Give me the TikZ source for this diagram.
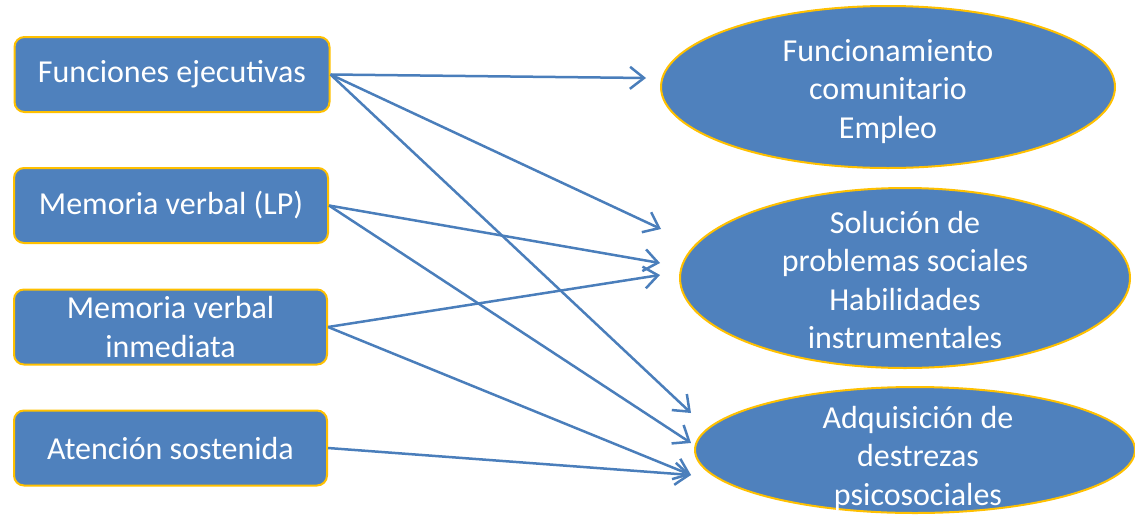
\documentclass[tikz,border=0pt]{standalone}
\usepackage{fontspec}
\setmainfont{Carlito}
\usetikzlibrary{shapes.geometric, arrows.meta}
\definecolor{boxblue}{HTML}{4F81BD}
\definecolor{edgegold}{HTML}{FFC000}
\definecolor{arrowblue}{HTML}{4A7EBB}

\begin{document}
\begin{tikzpicture}[x=1pt, y=-1pt, >={Straight Barb[length=14pt, width=22pt]},
    factor/.style={draw=edgegold, fill=boxblue, line width=2pt, rounded corners=10pt,
        minimum width=315pt, minimum height=75pt, inner sep=0pt, text=white,
        align=center, font=\fontsize{32}{38.5}\selectfont},
    outcome/.style={ellipse, draw=edgegold, fill=boxblue, line width=2pt, inner sep=0pt},
    txt/.style={text=white, align=center, font=\fontsize{32}{38.5}\selectfont},
    link/.style={->, draw=arrowblue, line width=2.5pt}]
    \useasboundingbox (0,0) rectangle (1135,515);

    % left column
    \node[factor] (fe) at (172,74.5) {Funciones ejecutivas};
    \node[factor, minimum width=314pt] (mlp) at (171,205.5) {Memoria verbal (LP)};
    \node[factor, minimum width=313pt] (mi) at (170.5,327) {Memoria verbal\\inmediata};
    \node[factor, minimum width=313pt] (as) at (170.5,448) {Atención sostenida};

    % right column
    \node[outcome, minimum width=454pt, minimum height=162pt,
        label={[txt, yshift=-4.5pt]center:{Funcionamiento\\comunitario\\Empleo}}] (fc) at (888,87) {};
    \node[outcome, minimum width=450pt, minimum height=180pt,
        label={[txt, yshift=-2pt]center:{Solución de\\problemas sociales\\Habilidades\\instrumentales}}] (sp) at (905,278) {};
    \node[outcome, minimum width=440pt, minimum height=126pt,
        label={[txt, yshift=-8pt, xshift=3pt]center:{Adquisición de\\destrezas\\psicosociales}}] (ad) at (915,450) {};

    \draw[link] (fe.east) -- ([shift={(-14,-9)}]fc.west);
    \draw[link] (fe.east) -- ([shift={(-18,-49)}]sp.west);
    \draw[link] (fe.east) -- ([shift={(-3,-37)}]ad.west);
    \draw[link] (mlp.east) -- ([shift={(-19,-15)}]sp.west);
    \draw[link] (mlp.east) -- ([shift={(-3,-7)}]ad.west);
    \draw[link] (mi.east) -- ([shift={(-19,-3)}]sp.west);
    \draw[link] (mi.east) -- ([shift={(-3,25)}]ad.west);
    \draw[link] (as.east) -- ([shift={(-3,25)}]ad.west);
\end{tikzpicture}
\end{document}
